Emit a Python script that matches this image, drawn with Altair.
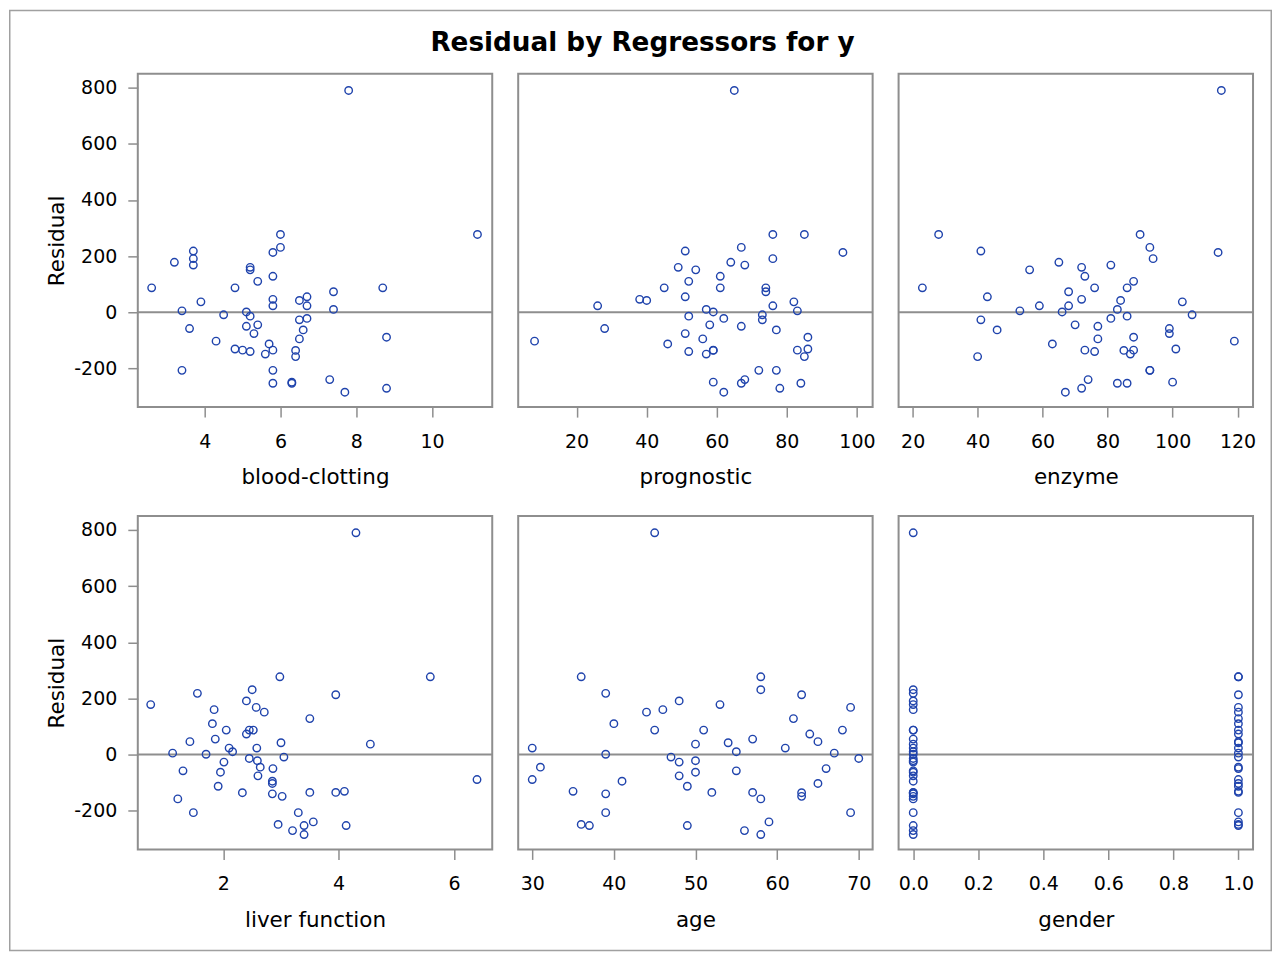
import pandas as pd
import altair as alt

blood_clotting = [6.7,5.1,7.4,6.5,7.8,5.8,5.7,3.7,6.0,3.7,6.3,6.7,5.8,5.8,7.7,7.4,6.0,3.7,7.3,5.6,5.2,3.4,6.7,5.8,6.3,5.8,5.2,11.2,5.2,5.8,3.2,8.7,5.0,5.8,5.4,5.3,2.6,4.3,4.8,5.4,5.2,3.6,8.8,6.5,3.4,6.5,4.5,4.8,5.1,3.9,6.6,6.4,6.4,8.8]
prognostic = [62,59,57,73,65,38,46,68,67,76,84,51,96,83,62,74,85,51,68,57,52,83,26,67,59,61,52,76,54,76,64,45,59,72,58,51,74,8,61,52,49,28,86,56,77,40,73,86,67,82,77,85,59,78]
enzyme = [81,66,83,41,115,72,63,81,93,94,83,43,114,88,67,68,28,41,74,87,76,53,68,86,100,73,86,90,56,59,65,23,73,93,70,99,86,119,76,88,72,99,88,77,93,84,106,101,77,103,46,40,85,72]
liver_function = [2.59,1.70,2.16,2.01,4.30,1.42,1.91,2.57,2.50,2.40,4.13,1.86,3.95,3.95,3.40,2.40,2.98,1.55,3.56,3.02,2.85,1.12,2.10,3.40,2.95,3.50,2.45,5.59,2.71,2.58,0.74,2.52,3.50,3.30,2.64,2.60,2.05,2.85,2.45,1.81,1.84,1.30,6.40,2.85,1.48,3.00,3.05,4.10,2.86,4.55,1.95,1.21,2.33,3.20]
age = [50,39,55,48,45,65,49,69,58,48,37,57,63,52,58,64,36,39,59,63,39,67,30,49,36,62,70,58,44,61,53,68,57,39,31,48,45,65,51,40,46,55,30,41,69,54,47,35,66,50,50,58,63,56]
gender = [0,0,0,0,0,1,1,1,0,0,0,0,1,1,0,1,1,0,1,0,0,1,0,1,1,1,0,1,1,1,0,0,0,1,1,0,0,1,1,1,0,0,1,0,0,1,1,1,1,0,0,0,0,0]
residual = [-22,1,10,-27,790,46,-113,168,231,191,-253,55,213,-135,-285,73,277,218,-240,-149,-140,5,23,-253,-249,128,-14,277,151,23,178,87,-135,-207,-45,-76,87,-103,87,110,160,-58,-89,-95,-207,42,-9,-131,-50,37,-63,-158,-136,-271]

df = pd.DataFrame({
    "bc": blood_clotting, "prog": prognostic, "enz": enzyme,
    "liver": liver_function, "age": age, "gender": gender, "resid": residual,
})
zero = pd.DataFrame({"z": [0]})

BLUE = "#1f43ac"
GRAY = "#8e8e8e"
FONT = "DejaVu Sans"
W, H = 355, 334
YDOM = [-338, 850]

panels = [
    ("bc", "blood-clotting", [2.234, 11.59], [4, 6, 8, 10], "d", True),
    ("prog", "prognostic", [3.33, 104.48], [20, 40, 60, 80, 100], "d", False),
    ("enz", "enzyme", [15.68, 124.75], [20, 40, 60, 80, 100, 120], "d", False),
    ("liver", "liver function", [0.516, 6.664], [2, 4, 6], "d", True),
    ("age", "age", [28.28, 71.7], [30, 40, 50, 60, 70], "d", False),
    ("gender", "gender", [-0.045, 1.045], [0, 0.2, 0.4, 0.6, 0.8, 1.0], ".1f", False),
]


def make_panel(i, field, title, dom, ticks, fmt, show_y):
    yscale = alt.Scale(domain=YDOM, nice=False, zero=False)
    xscale = alt.Scale(domain=dom, nice=False, zero=False)
    if show_y:
        yaxis = alt.Axis(values=[-200, 0, 200, 400, 600, 800], title="Residual",
                         labelExpr="toString(datum.value)")
    else:
        yaxis = None
    ref = alt.Chart(zero).mark_rule(color=GRAY, strokeWidth=2).encode(
        y=alt.Y("z:Q", scale=yscale, axis=yaxis)
    )
    pts = alt.Chart(df).mark_point(
        shape="circle", filled=False, size=56, strokeWidth=1.4, color=BLUE, opacity=1
    ).encode(
        x=alt.X(f"{field}:Q", scale=xscale,
                axis=alt.Axis(values=ticks, format=fmt, title=title)),
        y=alt.Y("resid:Q", scale=yscale, axis=yaxis),
    )
    layers = [ref, pts]
    if i == 0:
        border = alt.Chart(zero).mark_rect(
            fillOpacity=0, stroke="#a0a0a0", strokeWidth=1.5
        ).encode(
            x=alt.value(-128.25), x2=alt.value(1135.25),
            y=alt.value(-63.25), y2=alt.value(878.25),
        )
        layers = [border] + layers
    return alt.layer(*layers).properties(width=W, height=H)


charts = [make_panel(i, *p) for i, p in enumerate(panels)]

chart = alt.concat(
    *charts, columns=3, spacing=alt.RowColnumber(row=109, column=26)
).properties(
    bounds="flush",
    padding=0,
    title=alt.TitleParams(
        "Residual by Regressors for y", font=FONT, fontSize=26.3, fontWeight="bold",
        color="black", anchor="middle", offset=-48, dx=2,
    ),
).configure_view(
    stroke=GRAY, strokeWidth=2
).configure_axis(
    domain=False, grid=False,
    tickColor=GRAY, tickWidth=1.5, tickSize=10,
    labelFont=FONT, labelFontSize=19, labelColor="black", labelPadding=15,
    labelFlush=False, labelOverlap=False,
    titleFont=FONT, titleFontSize=21.5, titleFontWeight="normal", titleColor="black",
    titlePadding=16,
).configure_axisY(
    labelPadding=11, titlePadding=5,
)

chart.save("out.html", embed_options={"renderer": "svg", "actions": False})
